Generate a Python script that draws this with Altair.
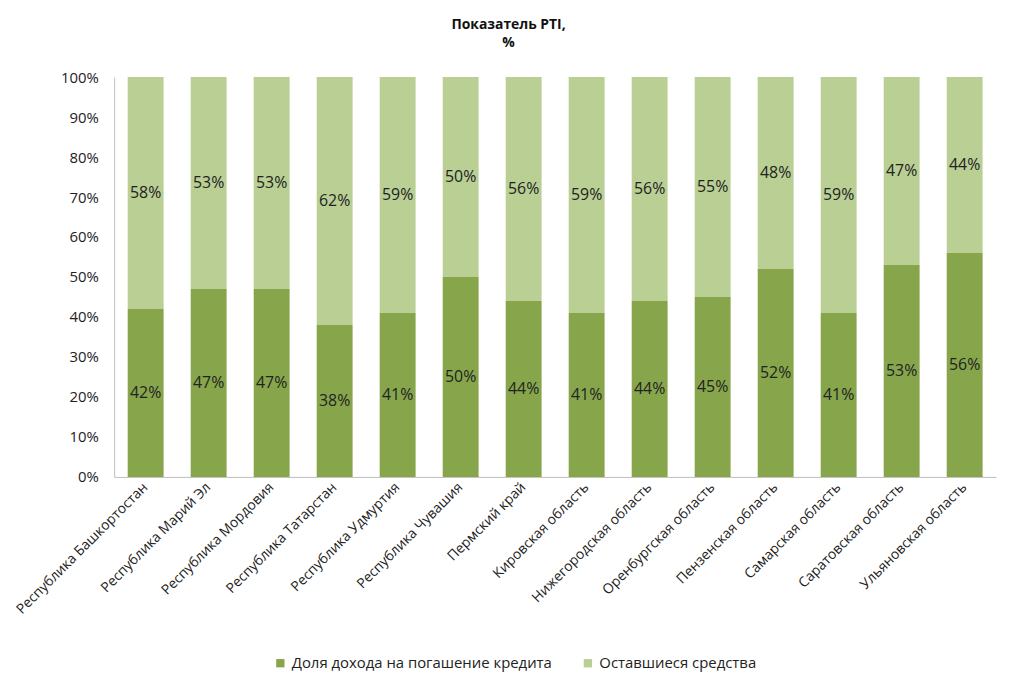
import altair as alt
import pandas as pd

regions = ["Республика Башкортостан", "Республика Марий Эл", "Республика Мордовия",
           "Республика Татарстан", "Республика Удмуртия", "Республика Чувашия",
           "Пермский край", "Кировская область", "Нижегородская область",
           "Оренбургская область", "Пензенская область", "Самарская область",
           "Саратовская область", "Ульяновская область"]
debt_share = [42, 47, 47, 38, 41, 50, 44, 41, 44, 45, 52, 41, 53, 56]
remaining = [58, 53, 53, 62, 59, 50, 56, 59, 56, 55, 48, 59, 47, 44]
series = ["Доля дохода на погашение кредита", "Оставшиеся средства"]
colors = ["#87A64C", "#B9CF93"]

rows = []
for r, a, b in zip(regions, debt_share, remaining):
    rows.append({"region": r, "series": series[0], "ord": 0, "value": a / 100})
    rows.append({"region": r, "series": series[1], "ord": 1, "value": b / 100})
df = pd.DataFrame(rows)

FONT = "Open Sans"

base = alt.Chart(df).transform_stack(
    stack="value", groupby=["region"], sort=[alt.SortField("ord")], as_=["v0", "v1"]
).transform_calculate(mid="(datum.v0 + datum.v1) / 2")

x = alt.X("region:N", sort=regions, title=None,
          scale=alt.Scale(paddingInner=0.43, paddingOuter=0.215),
          axis=alt.Axis(labelAngle=-45, labelAlign="right", labelBaseline="middle",
                        labelFontSize=14, labelFont=FONT, labelColor="#222222",
                        labelPadding=8, ticks=False, domainColor="#BFBFBF", labelLimit=400))

bars = base.mark_bar().encode(
    x=x,
    y=alt.Y("v0:Q", title=None, scale=alt.Scale(domain=[0, 1]),
            axis=alt.Axis(format=".0%", values=[i / 10 for i in range(11)], grid=False,
                          ticks=False, domainColor="#BFBFBF", labelFontSize=15,
                          labelFont=FONT, labelColor="#222222", labelPadding=16)),
    y2="v1:Q",
    color=alt.Color("series:N", scale=alt.Scale(domain=series, range=colors),
                    legend=alt.Legend(title=None, orient="none", direction="horizontal",
                                      legendX=160, legendY=583, symbolType="square",
                                      symbolSize=70, symbolStrokeWidth=0, labelFontSize=15,
                                      labelFont=FONT, labelColor="#222222", columnPadding=28,
                                      labelOffset=4, labelLimit=500)),
)

labels = base.mark_text(fontSize=16, font=FONT, color="#222222").encode(
    x=alt.X("region:N", sort=regions),
    y=alt.Y("mid:Q"),
    text=alt.Text("value:Q", format=".0%"),
)

chart = alt.layer(bars, labels).properties(
    width=889, height=403,
    autosize=alt.AutoSizeParams(type="none"),
    padding={"left": 107, "top": 67, "right": 20, "bottom": 200},
    title=alt.TitleParams(["Показатель PTI,", "%"], fontSize=14, font=FONT, fontWeight="bold",
                          color="#111111", anchor="middle", dx=-47, offset=20, lineHeight=18),
).configure_view(stroke=None)

chart.save("out.html", embed_options={"renderer": "svg", "actions": False})
